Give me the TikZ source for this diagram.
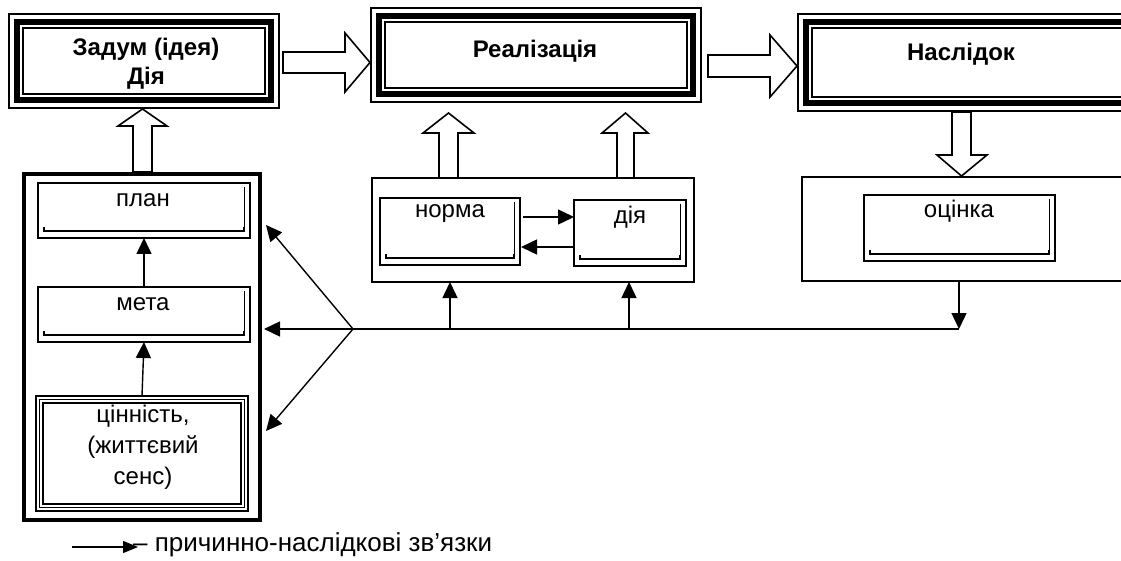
\documentclass[tikz,border=0pt]{standalone}
\usepackage{fontspec}
\setmainfont{Liberation Sans}
\usetikzlibrary{arrows.meta,fit}
\newcommand\tribox[1]{%
 \draw[line width=1.5pt] (#1.north west) rectangle (#1.south east);
 \draw[line width=5.5pt] ([shift={(8pt,-8pt)}]#1.north west) rectangle ([shift={(-8pt,8pt)}]#1.south east);
 \draw[line width=1.5pt] ([shift={(14pt,-14pt)}]#1.north west) rectangle ([shift={(-14pt,14pt)}]#1.south east);}
\newcommand\shadowin[1]{%
 \draw[line width=0.8pt] ([shift={(-6pt,-4pt)}]#1.north east) -- ([shift={(-6pt,7pt)}]#1.south east);
 \draw[line width=1.6pt] ([shift={(6pt,11pt)}]#1.south west) -- ([shift={(6pt,7pt)}]#1.south west) -- ([shift={(-6pt,7pt)}]#1.south east) -- ([shift={(-6pt,11pt)}]#1.south east);}
\tikzset{
 frame/.style={inner sep=0pt, outer sep=0pt},
 ibox/.style={frame, draw, line width=2pt},
 cont/.style={frame, draw, line width=1.2pt},
 lcont/.style={frame, draw, line width=3.5pt},
 ttl/.style={font=\bfseries\fontsize{24}{29}\selectfont, align=center, inner sep=0pt},
 txt/.style={font=\fontsize{24}{31}\selectfont, align=center, inner sep=0pt},
 arr/.style={line width=1.4pt, -{Triangle[length=16pt,width=15pt]}},
 ln/.style={line width=1.4pt},
 blk/.style={line width=1.6pt, fill=white, line join=miter}
}
\begin{document}
\begin{tikzpicture}[x=1pt,y=-1pt]
\useasboundingbox (0,0) rectangle (1121,561);
\clip (0,0) rectangle (1121,561);
\fill[white] (0,0) rectangle (1121,561);

% top boxes
\node[frame, fit={(9,14) (279,108)}] (b1) {};
\node[frame, fit={(371,8) (701,102)}] (b2) {};
\node[frame, fit={(798,14) (1140,111)}] (b3) {};
\tribox{b1}\tribox{b2}\tribox{b3}
\node[ttl] (t1) at (146,64) {Задум (ідея)\\Дія};
\node[ttl] (t2) at (535,51) {Реалізація};
\node[ttl] (t3) at (961,54) {Наслідок};

% block arrows
\draw[blk] (283,52) -- (345,52) -- (345,33) -- (370,62.5) -- (345,92) -- (345,73) -- (283,73) -- cycle;
\draw[blk] (708,55) -- (770,55) -- (770,35) -- (797,66) -- (770,97) -- (770,77) -- (708,77) -- cycle;
\draw[blk] (133,172) -- (133,126) -- (118,126) -- (142.5,109) -- (167,126) -- (152,126) -- (152,172) -- cycle;
\draw[blk] (439,178) -- (439,133) -- (423,133) -- (448.5,113) -- (474,133) -- (458,133) -- (458,178) -- cycle;
\draw[blk] (617,178) -- (617,133) -- (602,133) -- (625.5,113) -- (648,133) -- (634,133) -- (634,178) -- cycle;
\draw[blk] (952,112) -- (952,155) -- (937,155) -- (961.5,176) -- (987,155) -- (971,155) -- (971,112) -- cycle;

% left container
\node[lcont, fit={(24,174) (260,520)}] (left) {};
\node[ibox, fit={(38,183) (250,238)}] (plan) {};
\shadowin{plan}
\node[txt] (tplan) at (143,200) {план};
\node[ibox, fit={(38,287) (250,342)}] (meta) {};
\shadowin{meta}
\node[txt] (tmeta) at (143,304) {мета};
\node[frame, draw, line width=1.2pt, fit={(36,396) (248,511)}] (cin) {};
\draw[line width=1.2pt] ([shift={(3.5pt,-3.5pt)}]cin.north west) rectangle ([shift={(-3.5pt,3.5pt)}]cin.south east);
\draw[line width=1.2pt] ([shift={(7pt,-7pt)}]cin.north west) rectangle ([shift={(-7pt,7pt)}]cin.south east);
\node[txt] (tcin) at (143,447) {цінність,\\(життєвий\\сенс)};
\draw[arr] (meta.north) -- (plan.south);
\draw[arr] (cin.north) -- (meta.south);

% middle container
\node[cont, fill=white, fit={(372,178) (694,282)}] (mid) {};
\node[ibox, fit={(380,198) (520,265)}] (norma) {};
\shadowin{norma}
\node[txt] (tnorma) at (450,214) {норма};
\node[ibox, fit={(574,200) (686,266)}] (dia) {};
\shadowin{dia}
\node[txt] (tdia) at (630,217) {дія};
\draw[arr] (norma.east |- 0,217) ++(3,0) coordinate (n1) -- (dia.west |- n1);
\draw[arr] (dia.west |- 0,247) -- ([xshift=1pt]norma.east |- 0,247);

% right container
\node[cont, fill=white, fit={(802,177) (1140,281)}] (rc) {};
\node[ibox, fit={(864,195) (1055,261)}] (ots) {};
\shadowin{ots}
\node[txt] (tots) at (959,211) {оцінка};

% causal connectors
\coordinate (F) at (353,329);
\coordinate (H) at (959,329);
\coordinate (a1) at (266,225);
\coordinate (a2) at (264,329);
\coordinate (a3) at (266,431);
\coordinate (u1) at (450,329);
\coordinate (u2) at (629,329);
\draw[ln] (F) -- (H);
\draw[arr] (F) -- (a1);
\draw[arr] (F) -- (a2);
\draw[arr] (F) -- (a3);
\draw[arr] (rc.south -| H) -- (H);
\draw[arr] (u1) -- (u1 |- mid.south);
\draw[arr] (u2) -- (u2 |- mid.south);

% legend
\coordinate (l1) at (72,547);
\coordinate (l2) at (138,547);
\draw[line width=1.2pt, -{Triangle[length=15pt,width=12pt]}] (l1) -- (l2);
\node[font=\fontsize{26}{31}\selectfont, inner sep=0pt, anchor=west] (leg) at (133,545) {– причинно-наслідкові зв’язки};
\end{tikzpicture}
\end{document}
